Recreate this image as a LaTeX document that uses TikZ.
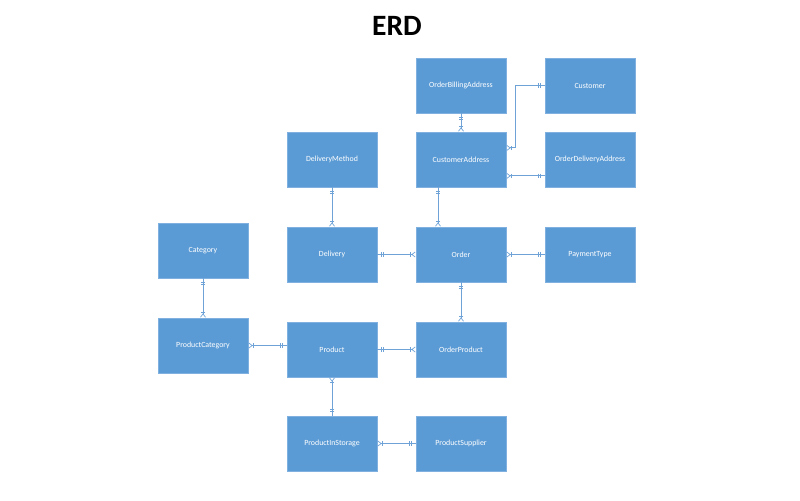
\documentclass[tikz,border=0pt]{standalone}
\usepackage{fontspec}
\setmainfont{Carlito}
\usetikzlibrary{arrows.meta}

\definecolor{boxblue}{HTML}{5B9BD5}
\definecolor{rimblue}{HTML}{80B0DF}
\definecolor{wireblue}{HTML}{6FA3D8}

\tikzset{
    entity/.style={draw=rimblue, fill=boxblue, text=white, line width=0.6pt,
        minimum width=2.25cm, minimum height=1.375cm, inner sep=0pt,
        font=\fontsize{5.6}{6}\selectfont},
    rel/.style={draw=wireblue, line width=0.6pt},
    onlyone/.tip={Bar[width=3.2pt,line width=0.5pt,sep=1pt] Bar[width=3.2pt,line width=0.5pt,sep=2.5pt] Bar[width=0.01pt,line width=0.01pt]},
    onemany/.tip={Bar[width=3.2pt,line width=0.5pt,sep=0.5pt] Straight Barb[reversed,width=3.6pt,length=2.4pt,line width=0.5pt]}
}

\begin{document}
\begin{tikzpicture}[x=0.025cm, y=-0.025cm]
    % canvas, 800 x 500 px
    \useasboundingbox (0,0) rectangle (800,500);

    \node[font=\bfseries\fontsize{21}{24}\selectfont] (title) at (397,26) {ERD};

    % Entities (centre x, centre y, name, text)
    \foreach \cx/\cy/\nm/\txt in {
        461/85.5/oba/OrderBillingAddress,
        590/85.5/cust/Customer,
        332/159.5/dm/DeliveryMethod,
        461/159.5/ca/CustomerAddress,
        590/159.5/oda/OrderDeliveryAddress,
        203/250.5/cat/Category,
        332/254.5/del/Delivery,
        461/254.5/ord/Order,
        590/254.5/pay/PaymentType,
        203/345.5/pc/ProductCategory,
        332/349.5/prod/Product,
        461/349.5/op/OrderProduct,
        332/443.5/pis/ProductInStorage,
        461/443.5/ps/ProductSupplier} {
        \node[entity] (\nm) at (\cx,\cy) {\txt};
    }

    % Relations: {onlyone} at the parent, {onemany} at the child
    \draw[rel, {onlyone}-{onemany}] (oba.south) -- (ca.north);
    \draw[rel, {onlyone}-{onemany}] (cust.west) -- ++(-29,0) |- ([yshift=0.29cm]ca.east);
    \draw[rel, {onlyone}-{onemany}] ([yshift=-0.41cm]oda.west) -- ([yshift=-0.41cm]ca.east);
    \draw[rel, {onlyone}-{onemany}] (dm.south) -- (del.north);
    \draw[rel, {onlyone}-{onemany}] ([xshift=-0.575cm]ca.south) -- ([xshift=-0.575cm]ord.north);
    \draw[rel, {onlyone}-{onemany}] (del.east) -- (ord.west);
    \draw[rel, {onlyone}-{onemany}] (pay.west) -- (ord.east);
    \draw[rel, {onlyone}-{onemany}] (ord.south) -- (op.north);
    \draw[rel, {onlyone}-{onemany}] (cat.south) -- (pc.north);
    \draw[rel, {onlyone}-{onemany}] (prod.west |- pc.east) -- (pc.east);
    \draw[rel, {onlyone}-{onemany}] (prod.east) -- (op.west);
    \draw[rel, {onlyone}-{onemany}] (pis.north) -- (prod.south);
    \draw[rel, {onlyone}-{onemany}] (ps.west) -- (pis.east);
\end{tikzpicture}
\end{document}
